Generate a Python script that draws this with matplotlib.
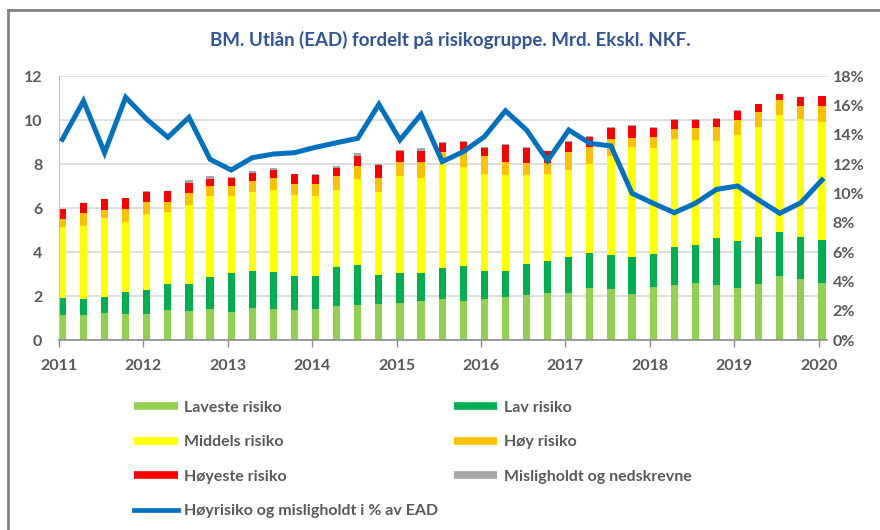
import numpy as np
import matplotlib as mpl
mpl.use("Agg")
import matplotlib.pyplot as plt
from matplotlib.lines import Line2D
from matplotlib.ticker import FuncFormatter

# --- data (Mrd. kr, quarterly 2011Q1 .. 2020Q1) ------------------------------
START_YEAR = 2011
laveste = [1.14, 1.14, 1.23, 1.18, 1.18, 1.36, 1.32, 1.41, 1.27, 1.44, 1.39, 1.35,
           1.39, 1.53, 1.59, 1.64, 1.68, 1.77, 1.86, 1.77, 1.86, 1.95, 2.05, 2.14,
           2.14, 2.35, 2.30, 2.09, 2.41, 2.50, 2.58, 2.50, 2.36, 2.55, 2.89, 2.76, 2.58]
lav = [0.75, 0.71, 0.72, 0.99, 1.08, 1.17, 1.21, 1.44, 1.76, 1.71, 1.72, 1.54,
       1.50, 1.77, 1.80, 1.30, 1.35, 1.26, 1.40, 1.58, 1.26, 1.17, 1.39, 1.44,
       1.62, 1.59, 1.55, 1.67, 1.48, 1.71, 1.72, 2.12, 2.12, 2.12, 2.00, 1.91, 1.95]
middels = [3.26, 3.35, 3.61, 3.21, 3.48, 3.30, 3.62, 3.71, 3.53, 3.59, 3.72, 3.72,
           3.67, 3.53, 3.94, 3.80, 4.44, 4.35, 4.85, 4.53, 4.44, 4.40, 4.08, 3.98,
           3.98, 4.08, 4.53, 5.03, 4.85, 4.94, 4.81, 4.43, 4.85, 5.01, 5.32, 5.36, 5.36]
hoy = [0.35, 0.59, 0.36, 0.59, 0.53, 0.44, 0.53, 0.44, 0.44, 0.49, 0.53, 0.50,
       0.55, 0.64, 0.59, 0.64, 0.64, 0.73, 0.42, 0.60, 0.80, 0.57, 0.53, 0.49,
       0.81, 0.77, 0.74, 0.41, 0.50, 0.46, 0.51, 0.62, 0.65, 0.70, 0.68, 0.59, 0.73]
hoyeste = [0.47, 0.42, 0.47, 0.47, 0.47, 0.49, 0.46, 0.32, 0.38, 0.38, 0.38, 0.42,
           0.37, 0.36, 0.46, 0.59, 0.50, 0.48, 0.44, 0.54, 0.38, 0.79, 0.69, 0.54,
           0.47, 0.45, 0.53, 0.54, 0.41, 0.41, 0.40, 0.39, 0.44, 0.35, 0.28, 0.41, 0.46]
mislighold = [0.00, 0.02, 0.02, 0.03, 0.02, 0.02, 0.13, 0.15, 0.04, 0.09, 0.08, 0.03,
              0.07, 0.09, 0.14, 0.02, 0.03, 0.12, 0.03, 0.03, 0.03, 0.02, 0.02, 0.02,
              0.02, 0.02, 0.02, 0.02, 0.02, 0.02, 0.02, 0.02, 0.02, 0.02, 0.03, 0.02, 0.02]
andel_pct = [13.68, 16.30, 12.77, 16.55, 15.05, 13.82, 15.18, 12.32, 11.59, 12.43,
             12.68, 12.77, 13.14, 13.45, 13.75, 16.07, 13.64, 15.39, 12.16, 12.84,
             13.86, 15.63, 14.32, 12.23, 14.32, 13.41, 13.23, 10.00, 9.32, 8.68,
             9.32, 10.27, 10.50, 9.55, 8.64, 9.36, 10.91]

series = [
    ("Laveste risiko", laveste, "#92D050"),
    ("Lav risiko", lav, "#00B050"),
    ("Middels risiko", middels, "#FFFF00"),
    ("Høy risiko", hoy, "#FFC000"),
    ("Høyeste risiko", hoyeste, "#FF0000"),
    ("Misligholdt og nedskrevne", mislighold, "#A6A6A6"),
]
LINE_LABEL = "Høyrisiko og misligholdt i % av EAD"
LINE_COLOR = "#0070C0"
TEXT = "#595959"

plt.rcParams["font.family"] = ["Lato", "DejaVu Sans"]

W, H = 880, 530
fig = plt.figure(figsize=(W / 100, H / 100), dpi=100)
fig.patch.set_facecolor("white")

# axes placed in pixel terms
x0, x1, y_top, y_bot = 59, 827, 76, 340
ax = fig.add_axes([x0 / W, 1 - y_bot / H, (x1 - x0) / W, (y_bot - y_top) / H])

n = len(laveste)
xpos = START_YEAR + np.arange(n) * 0.25 + 0.04
bottom = np.zeros(n)
for name, vals, col in series:
    ax.bar(xpos, vals, width=0.085, bottom=bottom, color=col, zorder=2, linewidth=0)
    bottom += np.array(vals)

px_per_year = 84.4
ax.set_xlim(START_YEAR, START_YEAR + (x1 - x0) / px_per_year)
ax.set_ylim(0, 12)
ax.set_yticks(range(0, 13, 2))
ax.set_xticks(range(2011, 2021))
ax.grid(axis="y", color="#D9D9D9", lw=1.2, zorder=0)
ax.set_axisbelow(True)
for s in ("top", "right"):
    ax.spines[s].set_visible(False)
ax.spines["left"].set_color("#BFBFBF")
ax.spines["bottom"].set_color("#8C8C8C")
ax.spines["bottom"].set_linewidth(1.2)
ax.tick_params(axis="y", length=0, pad=12, labelsize=11.5, labelcolor=TEXT)
ax.tick_params(axis="x", length=5, color="#8C8C8C", width=1, pad=9,
               labelsize=11.5, labelcolor=TEXT)
for lab in ax.get_xticklabels() + ax.get_yticklabels():
    lab.set_fontweight("bold")

ax2 = ax.twinx()
ax2.plot(xpos, andel_pct, color=LINE_COLOR, lw=3.6, solid_joinstyle="miter", zorder=3)
ax2.set_ylim(0, 18)
ax2.set_yticks(range(0, 19, 2))
ax2.yaxis.set_major_formatter(FuncFormatter(lambda v, p: "{:.0f}%".format(v)))
for s in ("top", "right", "left", "bottom"):
    ax2.spines[s].set_visible(False)
ax2.tick_params(axis="y", length=0, pad=4, labelsize=11.5, labelcolor=TEXT)
for lab in ax2.get_yticklabels():
    lab.set_fontweight("bold")

fig.text(450 / W, 1 - 40 / H, "BM. Utlån (EAD) fordelt på risikogruppe. Mrd. Ekskl. NKF.",
         ha="center", va="center", fontsize=13.5, fontweight="bold", color="#2F5597")

# legend
h = [Line2D([], [], color=c, lw=5.5, solid_capstyle="butt") for _, _, c in series]
line_h = Line2D([], [], color=LINE_COLOR, lw=3.4)
labels = [s[0] for s in series]
handles = [h[0], h[2], h[4], line_h, h[1], h[3], h[5]]
lab_order = [labels[0], labels[2], labels[4], LINE_LABEL, labels[1], labels[3], labels[5]]
leg = fig.legend(handles, lab_order, ncol=2, loc="upper left",
                 bbox_to_anchor=(120 / W, 1 - 386 / H), frameon=False,
                 fontsize=11.5, handlelength=2.7, handletextpad=0.4,
                 labelspacing=1.28, columnspacing=1.0)
for t in leg.get_texts():
    t.set_color(TEXT)
    t.set_fontweight("bold")

# chart border (top and left visible)
fig.add_artist(Line2D([8 / W, 8 / W], [0, 1 - 10 / H], color="#808080", lw=2.0))
fig.add_artist(Line2D([8 / W, 1], [1 - 10 / H, 1 - 10 / H], color="#808080", lw=2.0))

fig.savefig("out.png", dpi=100)
plt.close(fig)
